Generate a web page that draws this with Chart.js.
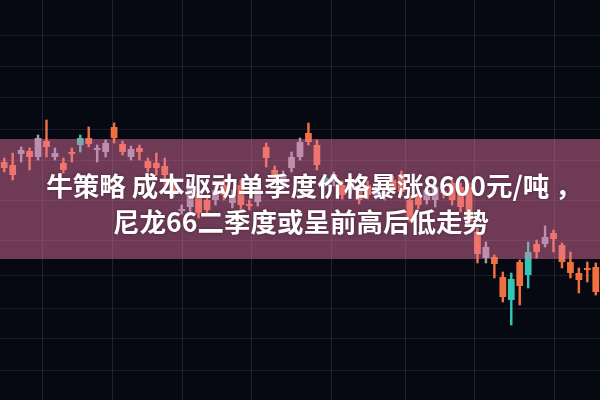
<!DOCTYPE html>
<html>
<head>
<meta charset="utf-8">
<script src="https://cdn.jsdelivr.net/npm/chart.js@4.4.1/dist/chart.umd.min.js"></script>
<style>
  html, body { margin: 0; padding: 0; background: #060812; }
  #wrap { width: 600px; height: 400px; position: relative; }
</style>
</head>
<body>
<div id="wrap"><canvas id="kChart"></canvas></div>
<script>
// K线数据
const opens  = [238,235,246,249,243,259,243,237,248,255,262,250,248,273,256,243,252,239,237,234,217,189,193,206,200,200,215,197,215,196,198,253,230,215,232,243,267,255,218,218,215,210,210,215,205,206,220,225,200,205,200,200,209,217,213,213,168,142,143,123,100,138,125,156,156,167,155,138,127,132,133];
const closes = [232,225,250,243,262,253,247,230,246,262,256,252,257,262,248,251,248,232,232,225,208,191,211,187,190,210,205,205,195,194,212,242,222,225,243,258,258,235,222,225,205,220,200,205,212,208,210,208,183,195,210,213,207,200,193,178,146,153,136,103,121,114,148,148,163,161,138,127,120,130,108];
const highs  = [242,247,253,252,265,280,252,242,252,265,273,255,260,277,259,254,255,242,247,242,222,195,218,210,205,214,220,210,220,200,216,257,234,229,248,262,277,260,225,228,219,224,214,219,216,212,224,229,204,209,214,217,214,220,217,217,172,158,145,128,127,140,158,160,174,170,157,148,132,138,137];
const lows   = [228,220,238,230,240,243,240,227,238,248,253,238,243,257,245,240,240,228,225,215,203,186,188,182,185,195,200,192,188,190,194,233,218,211,228,240,255,230,214,214,201,206,196,201,201,200,206,204,178,191,196,193,202,195,188,175,137,137,122,98,75,95,112,142,153,148,132,122,107,118,105];
// 放量突出显示的K线序号
const highlighted = [9, 38, 60, 62];
const days = opens.map((_, i) => String(i + 1));

// 背景网格位置
const yGridAt = [30, 62, 92, 125, 160, 200, 240, 270, 303, 334, 365];
const xGridAt = [4.8, 14.5, 24.0, 33.7, 46.1, 54.0, 65.1];

const title = ['牛策略 成本驱动单季度价格暴涨8600元/吨 ，', '尼龙66二季度或呈前高后低走势'];

const ORANGE = '#f0703f', GRAY = '#97a1b5', TEAL = '#33c6b3';
const colors = opens.map((o, i) => highlighted.includes(i) ? TEAL : (closes[i] >= o ? GRAY : ORANGE));

const overlay = {
    id: 'overlay',
    beforeDraw(chart) {
        const c = chart.ctx;
        c.save();
        c.fillStyle = '#060812';
        c.fillRect(0, 0, chart.width, chart.height);
        c.restore();
    },
    afterDatasetsDraw(chart) {
        const c = chart.ctx;
        c.save();
        c.fillStyle = 'rgba(237,119,169,0.45)';
        c.fillRect(0, 139, chart.width, 120);
        c.fillStyle = '#ffffff';
        c.textAlign = 'center';
        c.textBaseline = 'middle';
        c.font = 'bold 26.5px "Noto Sans CJK SC", "Noto Sans", sans-serif';
        c.shadowColor = 'rgba(0,0,0,0.35)';
        c.shadowBlur = 3;
        c.fillText(title[0], 314, 186);
        c.fillText(title[1], 301, 222);
        c.restore();
    }
};

window.onload = function() {
    new Chart(document.getElementById('kChart'), {
        type: 'bar',
        data: {
            labels: days,
            datasets: [
                {
                    label: 'body',
                    data: opens.map((o, i) => [o, closes[i]]),
                    backgroundColor: colors,
                    barPercentage: 0.8,
                    categoryPercentage: 1,
                    grouped: false
                },
                {
                    label: 'wick',
                    data: lows.map((l, i) => [l, highs[i]]),
                    backgroundColor: colors,
                    barThickness: 1.8,
                    grouped: false
                }
            ]
        },
        options: {
            responsive: true,
            maintainAspectRatio: false,
            animation: false,
            layout: { padding: 0 },
            plugins: { legend: { display: false }, tooltip: { enabled: false } },
            scales: {
                x: {
                    display: false,
                    offset: true
                },
                xg: {
                    type: 'linear',
                    position: 'bottom',
                    min: 0,
                    max: opens.length,
                    afterBuildTicks: s => { s.ticks = xGridAt.map(v => ({ value: v })); },
                    ticks: { display: false },
                    border: { display: false },
                    grid: { color: 'rgba(120,130,155,0.22)', drawTicks: false, lineWidth: 1 }
                },
                y: {
                    min: 0,
                    max: 400,
                    afterBuildTicks: s => { s.ticks = yGridAt.map(v => ({ value: v })); },
                    ticks: { display: false },
                    border: { display: false },
                    grid: { color: 'rgba(120,130,155,0.18)', drawTicks: false, lineWidth: 1 }
                }
            }
        },
        plugins: [overlay]
    });
};
</script>
</body>
</html>
